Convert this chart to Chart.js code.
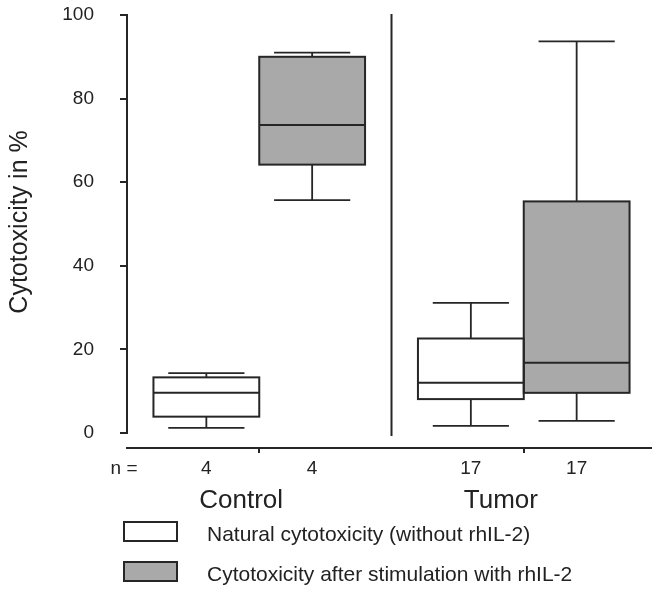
<!DOCTYPE html>
<html>
<head>
<meta charset="utf-8">
<script src="https://cdn.jsdelivr.net/npm/chart.js@4.4.0/dist/chart.umd.min.js"></script>
<style>
  html, body { margin: 0; padding: 0; background: #fff; overflow: hidden; }
</style>
</head>
<body>
<canvas id="boxChart" width="656" height="589"></canvas>
<script>
// groups and series
var categories = ['Control', 'Tumor'];
var seriesNames = ['Natural cytotoxicity (without rhIL-2)', 'Cytotoxicity after stimulation with rhIL-2'];
var yTickValues = [0, 20, 40, 60, 80, 100];

// box statistics (% cytotoxicity)
var nNatural = [4, 17];
var minNatural = [1.2, 1.7];
var q1Natural = [3.9, 8.1];
var medianNatural = [9.6, 12.0];
var q3Natural = [13.3, 22.6];
var maxNatural = [14.3, 31.1];

var nStim = [4, 17];
var minStim = [55.7, 2.9];
var q1Stim = [64.2, 9.6];
var medianStim = [73.7, 16.8];
var q3Stim = [90.0, 55.4];
var maxStim = [91.0, 93.7];

var FONT = "'Liberation Sans', Arial, sans-serif";
var INK = '#262626';

var boxStats = [
  { n: nNatural, min: minNatural, q1: q1Natural, med: medianNatural, q3: q3Natural, max: maxNatural },
  { n: nStim, min: minStim, q1: q1Stim, med: medianStim, q3: q3Stim, max: maxStim }
];

// whiskers, medians, outlines, labels and legend
var boxPlugin = {
  id: 'boxPlugin',
  afterDatasetsDraw: function (chart) {
    var ctx = chart.ctx;
    var xs = chart.scales.x, ys = chart.scales.y;
    var area = chart.chartArea;
    ctx.save();
    ctx.strokeStyle = INK;
    ctx.lineCap = 'butt';

    // y axis line, only across 0..100
    ctx.lineWidth = 2;
    ctx.beginPath();
    ctx.moveTo(area.left, ys.getPixelForValue(0) + 1);
    ctx.lineTo(area.left, ys.getPixelForValue(100) - 1);
    ctx.stroke();

    // separator between groups
    var sepX = (xs.getPixelForValue(0) + xs.getPixelForValue(1)) / 2;
    ctx.lineWidth = 2;
    ctx.beginPath();
    ctx.moveTo(sepX, area.top - 1);
    ctx.lineTo(sepX, ys.getPixelForValue(-0.7));
    ctx.stroke();

    ctx.fillStyle = '#222';
    ctx.textBaseline = 'middle';
    ctx.textAlign = 'center';
    ctx.font = '19px ' + FONT;

    chart.data.datasets.forEach(function (ds, di) {
      var st = boxStats[di];
      var meta = chart.getDatasetMeta(di);
      meta.data.forEach(function (bar, i) {
        var half = bar.width / 2;
        var capHalf = bar.width * 0.36;
        var top = ys.getPixelForValue(st.q3[i]);
        var bottom = ys.getPixelForValue(st.q1[i]);
        var med = ys.getPixelForValue(st.med[i]);
        var hi = ys.getPixelForValue(st.max[i]);
        var lo = ys.getPixelForValue(st.min[i]);

        ctx.lineWidth = 2;
        ctx.strokeRect(bar.x - half, top, bar.width, bottom - top);
        ctx.beginPath();
        ctx.moveTo(bar.x - half, med);
        ctx.lineTo(bar.x + half, med);
        ctx.stroke();

        ctx.lineWidth = 1.8;
        ctx.beginPath();
        ctx.moveTo(bar.x, top);
        ctx.lineTo(bar.x, hi);
        ctx.moveTo(bar.x - capHalf, hi);
        ctx.lineTo(bar.x + capHalf, hi);
        ctx.moveTo(bar.x, bottom);
        ctx.lineTo(bar.x, lo);
        ctx.moveTo(bar.x - capHalf, lo);
        ctx.lineTo(bar.x + capHalf, lo);
        ctx.stroke();

        ctx.fillText(String(st.n[i]), bar.x, area.bottom + 21);
      });
    });

    ctx.fillText('n =', area.left - 3, area.bottom + 21);

    // group names
    ctx.font = '26px ' + FONT;
    ctx.textAlign = 'left';
    categories.forEach(function (c, i) {
      ctx.fillText(c, xs.getPixelForValue(i) - 60, area.bottom + 53);
    });

    // y axis title
    ctx.save();
    ctx.translate(20, ys.getPixelForValue(50) - 2);
    ctx.rotate(-Math.PI / 2);
    ctx.textAlign = 'center';
    ctx.font = '25px ' + FONT;
    ctx.fillText('Cytotoxicity in %', 0, 0);
    ctx.restore();

    // legend
    ctx.font = '21px ' + FONT;
    ctx.textAlign = 'left';
    chart.data.datasets.forEach(function (ds, di) {
      var by = area.bottom + 74 + di * 40;
      ctx.fillStyle = ds.backgroundColor;
      ctx.fillRect(124, by, 53, 19);
      ctx.lineWidth = 2;
      ctx.strokeRect(124, by, 53, 19);
      ctx.fillStyle = '#222';
      ctx.fillText(ds.label, 207, by + 13);
    });

    ctx.restore();
  }
};

new Chart(document.getElementById('boxChart'), {
  type: 'bar',
  data: {
    labels: categories,
    datasets: [
      {
        label: seriesNames[0],
        data: q1Natural.map(function (v, i) { return [v, q3Natural[i]]; }),
        backgroundColor: '#ffffff',
        borderWidth: 0,
        categoryPercentage: 0.8,
        barPercentage: 1.0
      },
      {
        label: seriesNames[1],
        data: q1Stim.map(function (v, i) { return [v, q3Stim[i]]; }),
        backgroundColor: '#a9a9a9',
        borderWidth: 0,
        categoryPercentage: 0.8,
        barPercentage: 1.0
      }
    ]
  },
  options: {
    responsive: false,
    animation: false,
    devicePixelRatio: 1,
    layout: { padding: { top: 15, right: 0, bottom: 0, left: 0 } },
    plugins: {
      legend: { display: false },
      tooltip: { enabled: false }
    },
    scales: {
      x: {
        type: 'category',
        offset: true,
        grid: { offset: false, drawOnChartArea: false, drawTicks: true, tickLength: 5, color: INK, lineWidth: 2 },
        border: { display: true, color: INK, width: 2 },
        ticks: { display: false },
        afterFit: function (s) { s.height = 141; s.paddingLeft = 0; s.paddingRight = 0; }
      },
      y: {
        min: -3.6,
        max: 100,
        afterBuildTicks: function (s) {
          s.ticks = yTickValues.map(function (v) { return { value: v }; });
        },
        grid: { drawOnChartArea: false, tickLength: 7, color: INK, lineWidth: 2 },
        border: { display: false },
        ticks: { padding: 26, color: '#222', font: { family: FONT, size: 19 } },
        afterFit: function (s) { s.width = 127; s.paddingTop = 0; s.paddingBottom = 0; }
      }
    }
  },
  plugins: [boxPlugin]
});
</script>
</body>
</html>
